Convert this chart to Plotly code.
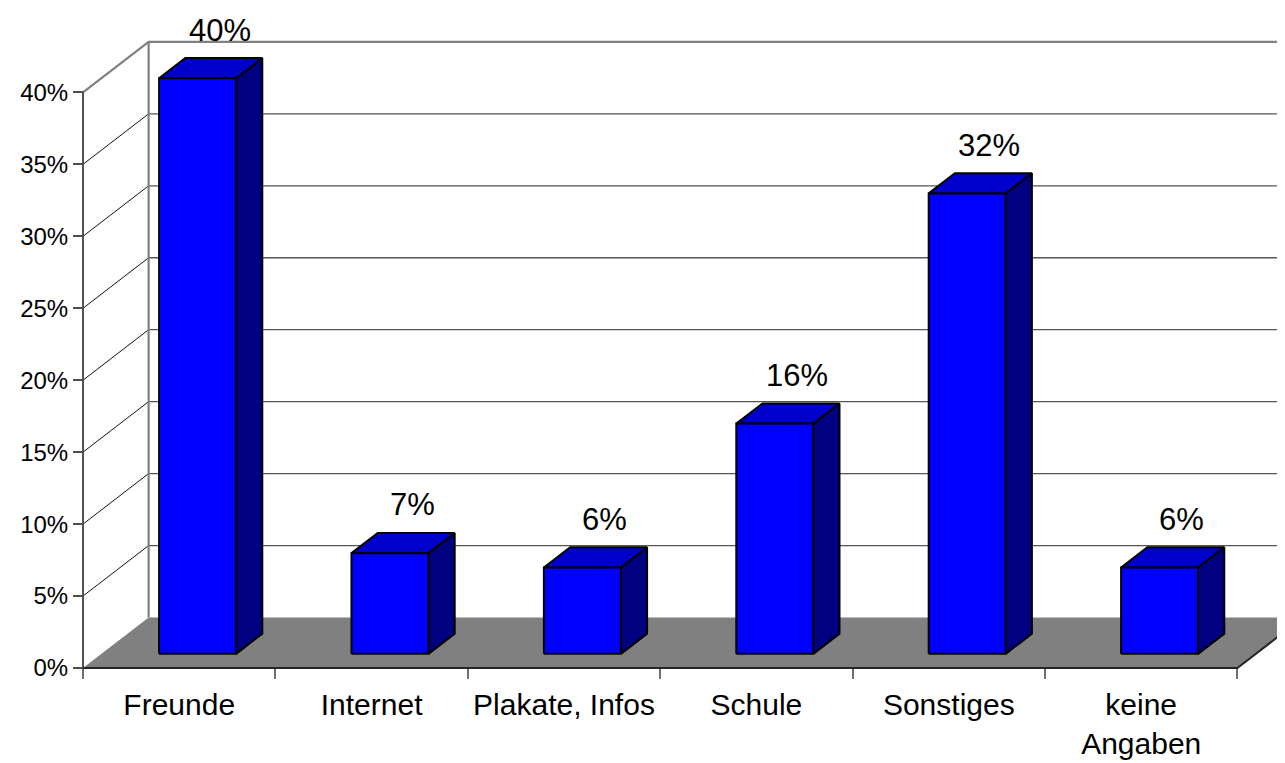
import plotly.graph_objects as go

# ---------------- data ----------------
categories = ["Freunde", "Internet", "Plakate, Infos", "Schule", "Sonstiges", "keine<br>Angaben"]
values = [40, 7, 6, 16, 32, 6]
value_labels = ["40%", "7%", "6%", "16%", "32%", "6%"]
y_tick_vals = [0, 5, 10, 15, 20, 25, 30, 35, 40]
y_tick_text = ["0%", "5%", "10%", "15%", "20%", "25%", "30%", "35%", "40%"]

# ---------------- geometry / style ----------------
PAGE_OFFSET = 8     # default body margin of the html page
W, H = 1285 - PAGE_OFFSET, 763 - PAGE_OFFSET
PX_PER_CAT = 192.4
PX_PER_PCT = 14.39
AXIS_X_PX = 83 - PAGE_OFFSET      # pixel x of the front value axis
AXIS_Y_PX = 668 - PAGE_OFFSET     # pixel y of the front category axis
DEPTH_PX_X, DEPTH_PX_Y = 65.6, 50.5
BAR_HALF = 0.2      # half bar width in category units
BAR_D0, BAR_D1 = 0.28, 0.68   # bar front/back depth fraction
LABEL_D = 0.62
FONT = "Liberation Sans, Arial, sans-serif"

DX = DEPTH_PX_X / PX_PER_CAT
DY = DEPTH_PX_Y / PX_PER_PCT
n = len(categories)
x_left, x_right = -0.5, n - 0.5
x_range = [x_left - AXIS_X_PX / PX_PER_CAT, x_left + (W - AXIS_X_PX) / PX_PER_CAT]
y_range = [-(H - AXIS_Y_PX) / PX_PER_PCT, AXIS_Y_PX / PX_PER_PCT]
ymax = max(y_tick_vals)

fig = go.Figure()


def seg_trace(xs, ys, color, width):
    fig.add_trace(go.Scatter(x=xs, y=ys, mode="lines", line=dict(color=color, width=width),
                             hoverinfo="skip", showlegend=False))


# floor
fig.add_trace(go.Scatter(
    x=[x_left, x_right, x_right + DX, x_left + DX, x_left],
    y=[0, 0, DY, DY, 0],
    mode="lines", fill="toself", fillcolor="#808080", line=dict(width=0, color="#808080"),
    hoverinfo="skip", showlegend=False))

# back wall gridlines
gx, gy = [], []
for v in y_tick_vals[1:-1]:
    gx += [x_left + DX, x_right + DX, None]
    gy += [v + DY, v + DY, None]
seg_trace(gx, gy, "#555555", 1.3)

# side wall gridlines
sx, sy = [], []
for v in y_tick_vals[1:-1]:
    sx += [x_left, x_left + DX, None]
    sy += [v, v + DY, None]
seg_trace(sx, sy, "#111111", 1)

# wall edges (gray)
seg_trace([x_left, x_left + DX, x_right + DX], [ymax, ymax + DY, ymax + DY], "#808080", 2.2)
seg_trace([x_left + DX, x_left + DX], [DY, ymax + DY], "#808080", 2.2)

# bars
fx, fy, tx, ty, rx, ry = [], [], [], [], [], []
for i, v in enumerate(values):
    xl, xr = i - BAR_HALF, i + BAR_HALF
    a0x, a0y = BAR_D0 * DX, BAR_D0 * DY
    a1x, a1y = BAR_D1 * DX, BAR_D1 * DY
    fx += [xl + a0x, xr + a0x, xr + a0x, xl + a0x, xl + a0x, None]
    fy += [a0y, a0y, v + a0y, v + a0y, a0y, None]
    tx += [xl + a0x, xr + a0x, xr + a1x, xl + a1x, xl + a0x, None]
    ty += [v + a0y, v + a0y, v + a1y, v + a1y, v + a0y, None]
    rx += [xr + a0x, xr + a1x, xr + a1x, xr + a0x, xr + a0x, None]
    ry += [a0y, a1y, v + a1y, v + a0y, a0y, None]

for xs, ys, col in [(rx, ry, "#000080"), (tx, ty, "#0000CC"), (fx, fy, "#0000FF")]:
    fig.add_trace(go.Scatter(x=xs, y=ys, mode="lines", fill="toself", fillcolor=col,
                             line=dict(color="black", width=2), hoverinfo="skip",
                             showlegend=False))

# axis lines
seg_trace([x_left, x_left], [0, ymax], "#404040", 1.8)
seg_trace([x_left, x_right, x_right + DX], [0, 0, DY], "#262626", 2)

# data labels
for i, (v, t) in enumerate(zip(values, value_labels)):
    fig.add_annotation(x=i + LABEL_D * DX, y=v + BAR_D1 * DY, text=t, showarrow=False,
                       yshift=28, yanchor="middle", xanchor="center",
                       font=dict(family=FONT, size=31, color="black"))

fig.update_layout(
    width=W, height=H,
    margin=dict(l=0, r=0, t=0, b=0),
    paper_bgcolor="white", plot_bgcolor="white",
    hovermode=False, showlegend=False,
    font=dict(family=FONT, color="black"),
    xaxis=dict(range=x_range, showgrid=False, zeroline=False, showline=False,
               tickmode="array", tickvals=list(range(n)), ticktext=categories,
               ticks="outside", ticklen=10, tickcolor="rgba(0,0,0,0)",
               tickfont=dict(family=FONT, size=30, color="black"),
               anchor="free", position=(H - AXIS_Y_PX) / H,
               minor=dict(tickmode="array", tickvals=[x_left + k for k in range(n + 1)],
                          ticks="outside", ticklen=10, tickwidth=1.8, tickcolor="#707070",
                          showgrid=False)),
    yaxis=dict(range=y_range, showgrid=False, zeroline=False, showline=False,
               tickmode="array", tickvals=y_tick_vals, ticktext=y_tick_text,
               ticks="outside", ticklen=10, tickwidth=1.8, tickcolor="#505050",
               tickfont=dict(family=FONT, size=24, color="black"),
               anchor="free", position=AXIS_X_PX / W),
)

fig.write_html("out.html")
